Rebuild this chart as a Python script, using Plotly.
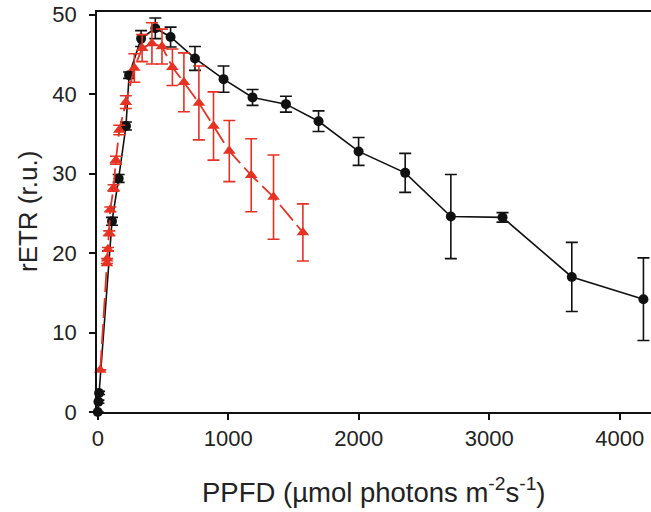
import plotly.graph_objects as go

# Black series (circles)
black_x = [0, 5, 10, 109, 160, 216, 240, 332, 441, 558, 745, 964, 1186, 1442, 1692, 1999, 2356, 2706, 3102, 3633, 4182]
black_y = [0, 1.3, 2.4, 24.0, 29.4, 36.0, 42.4, 47.0, 48.3, 47.2, 44.5, 41.9, 39.6, 38.75, 36.6, 32.8, 30.1, 24.6, 24.5, 17.0, 14.2]
black_err = [0, 0.2, 0.2, 0.5, 0.5, 0.5, 0.4, 1.0, 1.3, 1.25, 1.5, 1.65, 1.0, 1.0, 1.3, 1.75, 2.45, 5.3, 0.6, 4.35, 5.2]

# Red series (triangles)
red_x = [19, 70, 72, 78, 88, 96, 121, 139, 165, 215, 280, 340, 415, 492, 572, 660, 775, 887, 1008, 1176, 1347, 1572]
red_y = [5.3, 18.7, 19.3, 20.5, 22.5, 25.5, 28.2, 31.7, 35.5, 39.0, 43.3, 45.8, 46.4, 46.0, 43.4, 41.5, 38.9, 36.0, 32.85, 29.8, 27.05, 22.6]
red_err = [0, 0, 0, 0.2, 0.3, 0.3, 0.4, 0.5, 0.6, 0.8, 1.8, 1.7, 2.6, 2.2, 2.3, 3.7, 4.65, 4.3, 3.85, 4.6, 5.3, 3.6]

x_ticks = [0, 1000, 2000, 3000, 4000]
y_ticks = [0, 10, 20, 30, 40, 50]

BLACK = "#111111"
RED = "#E63222"
FONT = "Liberation Sans, Arial, sans-serif"

fig = go.Figure()
fig.add_trace(go.Scatter(
    x=black_x, y=black_y, mode="lines+markers",
    line=dict(color=BLACK, width=1.6),
    marker=dict(symbol="circle", size=10, color=BLACK),
    error_y=dict(type="data", array=black_err, visible=True, color=BLACK, thickness=1.6, width=6),
    cliponaxis=False, showlegend=False,
))
fig.add_trace(go.Scatter(
    x=red_x, y=red_y, mode="lines+markers",
    line=dict(color=RED, width=1.8, dash="20px,6px"),
    marker=dict(symbol="triangle-up", size=11, color=RED),
    error_y=dict(type="data", array=red_err, visible=True, color=RED, thickness=1.6, width=6),
    cliponaxis=False, showlegend=False,
))

fig.update_layout(
    width=651, height=512,
    margin=dict(l=97, r=0, t=12, b=100),
    plot_bgcolor="white", paper_bgcolor="white",
    font=dict(family=FONT, size=22, color="#222222"),
    xaxis=dict(
        range=[-6, 4240], tickvals=x_ticks, ticktext=[str(v) for v in x_ticks],
        showgrid=False, zeroline=False, showline=True, linecolor=BLACK, linewidth=1.6,
        mirror=True, ticks="outside", ticklen=6, tickwidth=1.5, tickcolor=BLACK,
        ticklabelstandoff=0,
    ),
    yaxis=dict(
        range=[0, 50.35], tickvals=y_ticks, ticktext=[str(v) for v in y_ticks],
        showgrid=False, zeroline=False, showline=True, linecolor=BLACK, linewidth=1.6,
        ticks="outside", ticklen=6, tickwidth=1.5, tickcolor=BLACK,
        ticklabelstandoff=8,
    ),
    annotations=[
        dict(text="PPFD (µmol photons m<sup>-2</sup>s<sup>-1</sup>)", xref="paper", yref="paper",
             x=0.5, y=-0.195, xanchor="center", yanchor="middle", showarrow=False,
             font=dict(family=FONT, size=27.5, color="#222222")),
        dict(text="rETR (r.u.)", xref="paper", yref="paper",
             x=-0.1245, y=0.5, xanchor="center", yanchor="middle", textangle=-90, showarrow=False,
             font=dict(family=FONT, size=26, color="#222222")),
    ],
)

fig.write_html("out.html", post_script="document.body.style.margin='0px';",
               config={"displayModeBar": False})
